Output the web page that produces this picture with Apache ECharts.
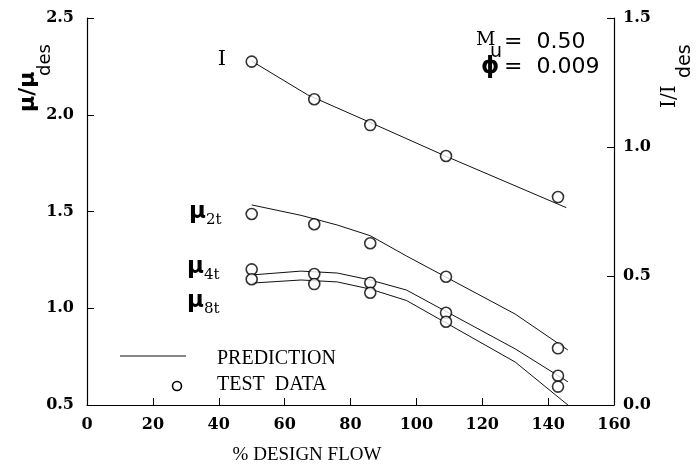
<!DOCTYPE html>
<html>
<head>
<meta charset="utf-8">
<script src="https://cdn.jsdelivr.net/npm/echarts@6/dist/echarts.min.js"></script>
<style>
  html, body { margin: 0; padding: 0; background: #fff; }
  #box { width: 698px; height: 465px; }
</style>
</head>
<body>
<div id="box"></div>
<script>
// prediction curves (left axis: mu/mu_des, right axis: I/I_des)
var predX = [50, 65, 76, 86, 97, 130, 146];
var predMu2 = [1.534, 1.48, 1.43, 1.375, 1.27, 0.97, 0.784];
var predMu4 = [1.172, 1.192, 1.182, 1.146, 1.094, 0.79, 0.62];
var predMu8 = [1.13, 1.146, 1.136, 1.099, 1.04, 0.722, 0.5];
var predIX = [50, 67, 86, 109, 145.5];
var predI = [1.333, 1.202, 1.095, 0.964, 0.765];

// test data
var testX = [50, 69, 86, 109, 143];
var testI = [1.331, 1.185, 1.085, 0.965, 0.806];
var testMu2 = [1.487, 1.434, 1.336, 1.163, 0.793];
var testMu4 = [1.201, 1.177, 1.132, 0.977, 0.651];
var testMu8 = [1.150, 1.125, 1.080, 0.930, 0.595];

function pairs(xs, ys) {
  return xs.map(function (x, i) { return [x, ys[i]]; });
}

var myChart = echarts.init(document.getElementById('box'));

var tickFont = { color: '#000', fontFamily: 'DejaVu Serif', fontWeight: 'bold', fontSize: 16 };
var black = '#000';

function predLine(name, data, yIdx) {
  return {
    name: name, type: 'line', data: data, yAxisIndex: yIdx || 0,
    symbol: 'none', silent: true,
    lineStyle: { color: '#111', width: 1 }
  };
}
function testPts(name, data, yIdx) {
  return {
    name: name, type: 'scatter', data: data, yAxisIndex: yIdx || 0,
    symbol: 'circle', symbolSize: 11, silent: true, z: 5,
    itemStyle: { color: '#fff', borderColor: black, borderWidth: 1.6 }
  };
}

var option = {
  animation: false,
  backgroundColor: '#fff',
  grid: { left: 87, right: 84, top: 18, bottom: 60 },
  xAxis: {
    type: 'value', min: 0, max: 160, interval: 20,
    axisLine: { lineStyle: { color: black, width: 1.2 } },
    axisTick: { inside: true, length: 7, lineStyle: { color: black } },
    axisLabel: Object.assign({ margin: 12 }, tickFont),
    splitLine: { show: false }
  },
  yAxis: [{
    type: 'value', min: 0.5, max: 2.5, interval: 0.5, position: 'left',
    axisLine: { show: true, lineStyle: { color: black, width: 1.2 } },
    axisTick: { show: true, inside: true, length: 7, lineStyle: { color: black } },
    axisLabel: Object.assign({ margin: 13, formatter: function (v) { return v.toFixed(1); } }, tickFont),
    splitLine: { show: false }
  }, {
    type: 'value', min: 0, max: 1.5, interval: 0.5, position: 'right',
    axisLine: { show: true, lineStyle: { color: black, width: 1.2 } },
    axisTick: { show: true, inside: true, length: 7, lineStyle: { color: black } },
    axisLabel: Object.assign({ margin: 9, formatter: function (v) { return v.toFixed(1); } }, tickFont),
    splitLine: { show: false }
  }],
  series: [
    predLine('I pred', pairs(predIX, predI), 1),
    predLine('mu2t pred', pairs(predX, predMu2)),
    predLine('mu4t pred', pairs(predX, predMu4)),
    predLine('mu8t pred', pairs(predX, predMu8)),
    testPts('I test', pairs(testX, testI), 1),
    testPts('mu2t test', pairs(testX, testMu2)),
    testPts('mu4t test', pairs(testX, testMu4)),
    testPts('mu8t test', pairs(testX, testMu8))
  ],
  graphic: [
    // axis titles
    { type: 'text', x: 307, y: 455, style: { text: '% DESIGN FLOW', fontFamily: 'Liberation Serif', fontSize: 19, fill: black, textAlign: 'center', textVerticalAlign: 'middle' } },
    { type: 'text', x: 28, y: 112, rotation: Math.PI / 2, style: { text: 'μ/μ', fontFamily: 'DejaVu Sans', fontWeight: 'bold', fontSize: 22, fill: black, textAlign: 'left', textVerticalAlign: 'middle' } },
    { type: 'text', x: 45, y: 76, rotation: Math.PI / 2, style: { text: 'des', fontFamily: 'DejaVu Sans', fontSize: 18, fill: black, textAlign: 'left', textVerticalAlign: 'middle' } },
    { type: 'text', x: 670, y: 108, rotation: Math.PI / 2, style: { text: 'I/I', fontFamily: 'DejaVu Serif', fontSize: 20, fill: black, textAlign: 'left', textVerticalAlign: 'middle' } },
    { type: 'text', x: 685, y: 78, rotation: Math.PI / 2, style: { text: 'des', fontFamily: 'DejaVu Sans', fontSize: 19, fill: black, textAlign: 'left', textVerticalAlign: 'middle' } },
    // curve labels
    { type: 'text', x: 222, y: 60, style: { text: 'I', fontFamily: 'DejaVu Serif', fontSize: 21, fill: black, textAlign: 'center', textVerticalAlign: 'middle' } },
    { type: 'text', x: 189, y: 212, style: { text: 'μ', fontFamily: 'DejaVu Sans', fontWeight: 'bold', fontSize: 23, fill: black, textAlign: 'left', textVerticalAlign: 'middle' } },
    { type: 'text', x: 206, y: 220, style: { text: '2t', fontFamily: 'DejaVu Serif', fontSize: 15, fill: black, textAlign: 'left', textVerticalAlign: 'middle' } },
    { type: 'text', x: 187, y: 267, style: { text: 'μ', fontFamily: 'DejaVu Sans', fontWeight: 'bold', fontSize: 23, fill: black, textAlign: 'left', textVerticalAlign: 'middle' } },
    { type: 'text', x: 204, y: 275, style: { text: '4t', fontFamily: 'DejaVu Serif', fontSize: 15, fill: black, textAlign: 'left', textVerticalAlign: 'middle' } },
    { type: 'text', x: 187, y: 301, style: { text: 'μ', fontFamily: 'DejaVu Sans', fontWeight: 'bold', fontSize: 23, fill: black, textAlign: 'left', textVerticalAlign: 'middle' } },
    { type: 'text', x: 204, y: 309, style: { text: '8t', fontFamily: 'DejaVu Serif', fontSize: 15, fill: black, textAlign: 'left', textVerticalAlign: 'middle' } },
    // parameter box
    { type: 'text', x: 476, y: 40, style: { text: 'M', fontFamily: 'DejaVu Serif', fontSize: 19, fill: black, textAlign: 'left', textVerticalAlign: 'middle' } },
    { type: 'text', x: 490, y: 52, style: { text: 'u', fontFamily: 'DejaVu Sans', fontSize: 19, fill: black, textAlign: 'left', textVerticalAlign: 'middle' } },
    { type: 'text', x: 504, y: 42, style: { text: '=  0.50', fontFamily: 'DejaVu Sans', fontSize: 22, fill: black, textAlign: 'left', textVerticalAlign: 'middle' } },
    { type: 'text', x: 481, y: 67, style: { text: 'ϕ', fontFamily: 'DejaVu Sans', fontWeight: 'bold', fontSize: 23, fill: black, textAlign: 'left', textVerticalAlign: 'middle' } },
    { type: 'text', x: 504, y: 67, style: { text: '=  0.009', fontFamily: 'DejaVu Sans', fontSize: 22, fill: black, textAlign: 'left', textVerticalAlign: 'middle' } },
    // legend
    { type: 'line', shape: { x1: 120, y1: 356, x2: 186, y2: 356 }, style: { stroke: '#111', lineWidth: 1 } },
    { type: 'circle', shape: { cx: 177, cy: 386, r: 4.5 }, style: { fill: '#fff', stroke: black, lineWidth: 1.6 } },
    { type: 'text', x: 217, y: 359, style: { text: 'PREDICTION', fontFamily: 'Liberation Serif', fontSize: 20, fill: black, textAlign: 'left', textVerticalAlign: 'middle' } },
    { type: 'text', x: 217, y: 385, style: { text: 'TEST  DATA', fontFamily: 'Liberation Serif', fontSize: 20, fill: black, textAlign: 'left', textVerticalAlign: 'middle' } }
  ]
};

myChart.setOption(option);
</script>
</body>
</html>
